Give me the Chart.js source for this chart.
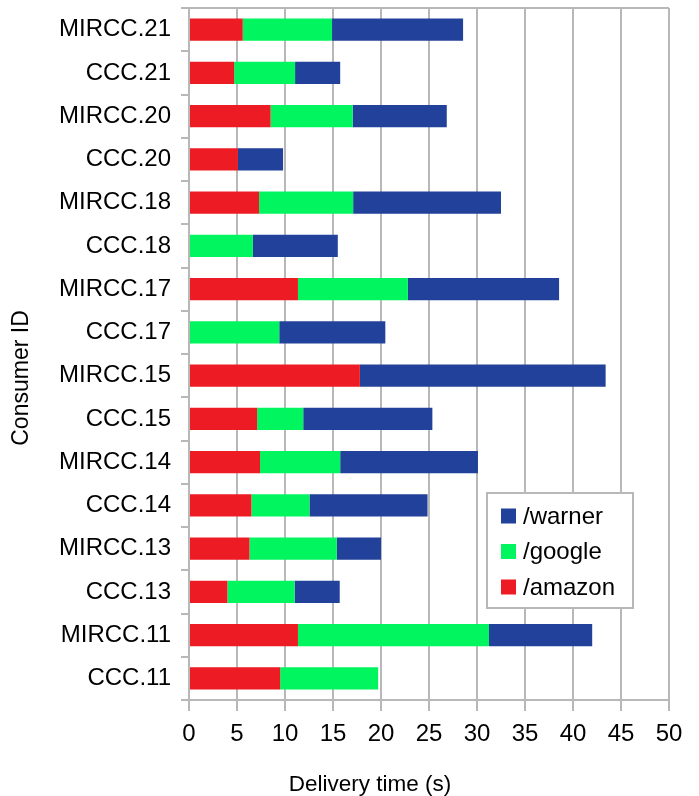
<!DOCTYPE html>
<html>
<head>
<meta charset="utf-8">
<script src="https://cdn.jsdelivr.net/npm/chart.js@4/dist/chart.umd.min.js"></script>
<style>
  html, body { margin: 0; padding: 0; background: #fff; }
  #wrap { width: 699px; height: 796px; }
</style>
</head>
<body>
<div id="wrap"><canvas id="grafico"></canvas></div>
<script>
// consumers, top to bottom as in the figure
var consumidores = ['MIRCC.21', 'CCC.21', 'MIRCC.20', 'CCC.20', 'MIRCC.18', 'CCC.18', 'MIRCC.17', 'CCC.17',
  'MIRCC.15', 'CCC.15', 'MIRCC.14', 'CCC.14', 'MIRCC.13', 'CCC.13', 'MIRCC.11', 'CCC.11']

// delivery time (s) per path
var amazon = [5.6, 4.7, 8.5, 5.1, 7.3, 0, 11.35, 0, 17.8, 7.1, 7.4, 6.5, 6.3, 4.0, 11.35, 9.5]
var google = [9.3, 6.35, 8.55, 0, 9.8, 6.65, 11.45, 9.4, 0, 4.8, 8.35, 6.05, 9.1, 7.0, 19.9, 10.2]
var warner = [13.65, 4.7, 9.8, 4.7, 15.4, 8.85, 15.75, 11.05, 25.6, 13.45, 14.35, 12.3, 4.6, 4.7, 10.75, 0]

var xMin = 0
var xMax = 50
var xPasso = 5

var cinza = '#b8b8b8'
var fonte = 'Liberation Sans, Arial, sans-serif'

// legend box and axis titles
var extras = {
  id: 'extras',
  afterDraw: function(chart) {
    var ctx = chart.ctx
    var area = chart.chartArea
    ctx.save()

    // legend (reverse order, like the original)
    var bx = area.left + 298, by = area.top + 485, bw = 146, bh = 115
    ctx.fillStyle = '#fff'
    ctx.fillRect(bx, by, bw, bh)
    ctx.strokeStyle = cinza
    ctx.lineWidth = 2
    ctx.strokeRect(bx, by, bw, bh)
    var ds = chart.data.datasets.slice().reverse()
    ctx.font = '24px ' + fonte
    ctx.textBaseline = 'middle'
    ctx.textAlign = 'left'
    for (var i = 0; i < ds.length; i++) {
      var cy = by + 23 + i * 35.5
      ctx.fillStyle = ds[i].backgroundColor
      ctx.fillRect(bx + 14, cy - 7.5, 15, 15)
      ctx.fillStyle = '#000'
      ctx.fillText(ds[i].label, bx + 36, cy + 1)
    }

    // axis titles
    ctx.fillStyle = '#000'
    ctx.textAlign = 'center'
    ctx.font = '22.5px ' + fonte
    ctx.fillText('Delivery time (s)', 370, 785)
    ctx.translate(22, 378)
    ctx.rotate(-Math.PI / 2)
    ctx.font = '23px ' + fonte
    ctx.fillText('Consumer ID', 0, 0)
    ctx.restore()
  }
}

const ctx = document.getElementById('grafico')
new Chart(ctx, {
  type: 'bar',
  data: {
    labels: consumidores,
    datasets: [
      { label: '/amazon', data: amazon, backgroundColor: '#ed1c24' },
      { label: '/google', data: google, backgroundColor: '#00f55f' },
      { label: '/warner', data: warner, backgroundColor: '#22419a' }
    ]
  },
  options: {
    indexAxis: 'y',
    responsive: true,
    maintainAspectRatio: false,
    animation: false,
    barPercentage: 0.51,
    categoryPercentage: 1,
    layout: { padding: { top: 8, right: 30, left: 0, bottom: 0 } },
    scales: {
      x: {
        stacked: true,
        min: xMin,
        max: xMax,
        ticks: { stepSize: xPasso, color: '#000', font: { family: fonte, size: 24 }, padding: 9 },
        grid: { color: cinza, lineWidth: 2, tickLength: 11, tickColor: cinza },
        border: { color: cinza, width: 2 },
        afterFit: function(s) { s.height = 96; s.paddingLeft = 0; s.paddingRight = 0 }
      },
      y: {
        stacked: true,
        ticks: { color: '#000', font: { family: fonte, size: 24 }, padding: 10, autoSkip: false },
        grid: {
          offset: true,
          tickLength: 8,
          lineWidth: 2,
          tickColor: cinza,
          color: function(c) { return c.index === 0 ? cinza : 'rgba(0,0,0,0)' }
        },
        border: { color: cinza, width: 2 },
        afterFit: function(s) { s.width = 189; s.paddingTop = 0; s.paddingBottom = 0 }
      }
    },
    plugins: {
      legend: { display: false },
      tooltip: { enabled: false }
    }
  },
  plugins: [extras]
})
</script>
</body>
</html>
